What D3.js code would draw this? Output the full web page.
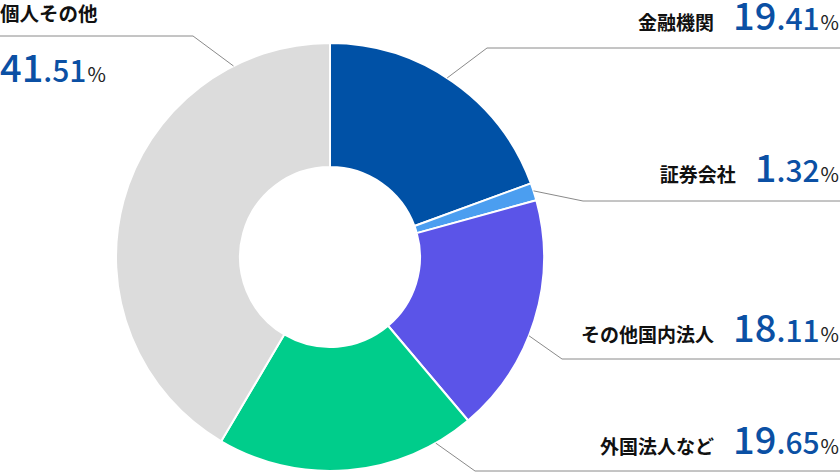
<!DOCTYPE html>
<html>
<head>
<meta charset="utf-8">
<script src="https://cdn.jsdelivr.net/npm/d3@7"></script>
<style>
  html, body { margin: 0; padding: 0; background: #fff; }
  #graphicContainer { width: 840px; height: 472px; }
  text { font-family: "Noto Sans CJK JP", "Noto Sans", sans-serif; }
</style>
</head>
<body>
<div id="graphicContainer"></div>
<script>

// shareholder breakdown (%)
var categories = ["金融機関", "証券会社", "その他国内法人", "外国法人など", "個人その他"]
var shares = [19.41, 1.32, 18.11, 19.65, 41.51]
var shareLabels = ["19.41", "1.32", "18.11", "19.65", "41.51"]

var colors = ["#0051a6", "#4b9ef0", "#5b54e8", "#00cd8b", "#dcdcdc"]

function init() {

	var width = 840
	var height = 472

	var cx = 330, cy = 257
	var outerR = 214, innerR = 90

	var svg = d3.select("#graphicContainer").append("svg")
				.attr("width", width)
				.attr("height", height)

	var data = categories.map(function(c, i) {
		return {name: c, value: shares[i], label: shareLabels[i], color: colors[i]}
	})

	var pie = d3.pie()
		.sort(null)
		.value(d => d.value)

	var arc = d3.arc()
		.innerRadius(innerR)
		.outerRadius(outerR)

	var donut = svg.append("g").attr("transform", "translate(" + cx + "," + cy + ")")

	donut.selectAll("path")
		.data(pie(data))
		.enter()
		.append("path")
		.attr("d", arc)
		.attr("fill", d => d.data.color)
		.attr("stroke", "#fff")
		.attr("stroke-width", 2)
		.attr("stroke-linejoin", "round")

	// label placement: where the leader leaves the ring (deg from top), the elbow, the text baseline
	var layout = [
		{angle: 33.2, elbow: [487, 48], baseline: 30, side: "right"},
		{angle: 72.0, elbow: [583, 201], baseline: 182, side: "right"},
		{angle: 111.6, elbow: [562, 359], baseline: 342, side: "right"},
		{angle: 150.4, elbow: [475, 471], baseline: 454, side: "right"},
		{angle: 333.2, elbow: [193, 36], baseline: 82, side: "left"}
	]

	var labels = svg.append("g")

	data.forEach(function(d, i) {
		var l = layout[i]
		var a = l.angle * Math.PI / 180
		var ax = cx + outerR * Math.sin(a)
		var ay = cy - outerR * Math.cos(a)
		var endX = l.side === "right" ? width : 0

		labels.append("polyline")
			.attr("points", [[ax, ay], l.elbow, [endX, l.elbow[1]]].map(p => p.join(",")).join(" "))
			.attr("fill", "none")
			.attr("stroke", "#8a8a8a")
			.attr("stroke-width", 1)

		var parts = d.label.split(".")

		var val = labels.append("text")
			.attr("y", l.baseline)
			.attr("x", l.side === "right" ? width - 1 : 0)
			.attr("text-anchor", l.side === "right" ? "end" : "start")
			.attr("font-weight", 500)

		val.append("tspan")
			.attr("fill", "#0b50a4")
			.attr("font-size", 38)
			.text(parts[0])

		val.append("tspan")
			.attr("fill", "#0b50a4")
			.attr("font-size", 30)
			.text("." + parts[1])

		val.append("tspan")
			.attr("fill", "#222")
			.attr("font-size", 20)
			.attr("font-weight", 400)
			.attr("dx", 1)
			.text("%")

		if (l.side === "right") {
			var w = val.node().getComputedTextLength()
			labels.append("text")
				.attr("x", width - 1 - w - 20)
				.attr("y", l.baseline)
				.attr("text-anchor", "end")
				.attr("font-size", 19)
				.attr("font-weight", 700)
				.attr("fill", "#111")
				.text(d.name)
		}
		else {
			labels.append("text")
				.attr("x", 0)
				.attr("y", 21)
				.attr("font-size", 19.5)
				.attr("font-weight", 700)
				.attr("fill", "#111")
				.text(d.name)
		}
	})

}

init()

</script>
</body>
</html>
